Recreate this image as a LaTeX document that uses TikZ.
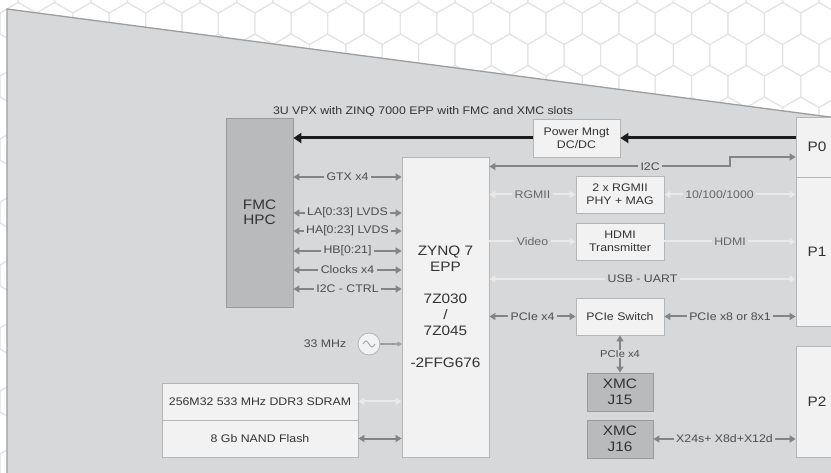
\documentclass[tikz,border=0pt]{standalone}
\usepackage{fontspec}
\setmainfont[FakeStretch=1.12]{Liberation Sans}
\usetikzlibrary{arrows.meta}
\definecolor{panel}{HTML}{D7D8DA}
\definecolor{panelline}{HTML}{9C9D9F}
\definecolor{boxl}{HTML}{F2F2F2}
\definecolor{boxd}{HTML}{B9BABC}
\definecolor{edge}{HTML}{B4B5B7}
\definecolor{edgedark}{HTML}{9A9B9D}
\definecolor{darr}{HTML}{838486}
\definecolor{larr}{HTML}{E9E9EA}
\definecolor{txt}{HTML}{333333}
\definecolor{lbltxt}{HTML}{4C4C4C}
\definecolor{lbllight}{HTML}{666666}
\definecolor{hexline}{HTML}{E3E3E3}
\definecolor{blk}{HTML}{1C1C1C}
\begin{document}
\begin{tikzpicture}[x=1pt,y=-1pt,
  >={Triangle[width=7pt,length=6pt]},
  box/.style={draw=edge,line width=0.8pt,fill=boxl,inner sep=0pt,align=center,text=txt,font=\fontsize{11}{13}\selectfont},
  bigbox/.style={box,font=\fontsize{13.7}{15.5}\selectfont},
  darkbox/.style={bigbox,fill=boxd,draw=edgedark},
  darrow/.style={draw=darr,line width=2pt},
  larrow/.style={draw=larr,line width=2pt},
  blkarrow/.style={draw=blk,line width=3pt,-{Triangle[width=10pt,length=8pt]}},
  oscarrow/.style={draw=darr!80,line width=1.2pt,-{Triangle[width=5pt,length=4pt]}},
  lbl/.style={fill=panel,inner ysep=1pt,inner xsep=2.5pt,font=\fontsize{11}{12}\selectfont,text=lbltxt},
  lbll/.style={lbl,text=lbllight},
  hexcell/.style={draw=hexline,line width=1pt}
]
\useasboundingbox (0,0) rectangle (831,473);
\clip (0,0) rectangle (831,473);
\fill[white] (0,0) rectangle (831,473);
% hexagon background
\foreach \r in {0,...,15}{
  \foreach \c in {-1,...,24}{
    \pgfmathsetmacro{\cx}{\c*36.4+mod(\r,2)*18.2}
    \pgfmathsetmacro{\cy}{\r*31.5-8}
    \draw[hexcell] (\cx,\cy) +(90:21pt) -- +(30:21pt) -- +(-30:21pt) -- +(-90:21pt) -- +(-150:21pt) -- +(150:21pt) -- cycle;
  }
}
% panel
\fill[panel] (7,9) -- (845,119) -- (845,480) -- (7,480) -- cycle;
\draw[panelline,line width=1.3pt] (7,480) -- (7,9) -- (845,119);

% title
\node[font=\fontsize{11}{12}\selectfont,text=txt] (title) at (423,112) {3U VPX with ZINQ 7000 EPP with FMC and XMC slots};

% boxes
\node[darkbox,minimum width=67pt,minimum height=189pt] (fmc) at (259.5,212.5) {FMC\\HPC};
\node[box,minimum width=87pt,minimum height=38pt] (power) at (576.5,138) {Power Mngt\\DC/DC};
\node[bigbox,minimum width=87pt,minimum height=300pt,font=\fontsize{13.7}{16}\selectfont] (zynq) at (445.5,307) {ZYNQ 7\\EPP\\[16pt]7Z030\\/\\7Z045\\[16pt]-2FFG676};
\node[box,minimum width=88pt,minimum height=37pt] (rgmii) at (620,194.5) {2 x RGMII\\PHY + MAG};
\node[box,minimum width=88pt,minimum height=37pt] (hdmi) at (620,241.5) {HDMI\\Transmitter};
\node[box,minimum width=88pt,minimum height=37pt] (pcsw) at (620,316.5) {PCIe Switch};
\node[darkbox,minimum width=66pt,minimum height=38pt] (j15) at (620,392) {XMC\\J15};
\node[darkbox,minimum width=66pt,minimum height=38pt] (j16) at (620,439) {XMC\\J16};
\node[bigbox,minimum width=42pt,minimum height=60pt] (p0) at (817,147) {P0};
\node[bigbox,minimum width=42pt,minimum height=149pt] (p1) at (817,251.5) {P1};
\node[bigbox,minimum width=42pt,minimum height=111pt] (p2) at (817,401.5) {P2};
\node[box,minimum width=196pt,minimum height=37pt] (ddr) at (260,401.5) {256M32 533 MHz DDR3 SDRAM};
\node[box,minimum width=196pt,minimum height=37pt] (nand) at (260,438.5) {8 Gb NAND Flash};
\node[circle,draw=edge,fill=boxl,line width=0.8pt,minimum size=22pt,inner sep=0pt] (osc) at (369,344) {};
\draw[darr!70,line width=1pt] (osc.center) ++(-6,0) sin ++(3,-3) cos ++(3,3) sin ++(3,3) cos ++(3,-3);
\node[font=\fontsize{11}{12}\selectfont,text=lbltxt] (mhz) at (325,344) {33 MHz};

% named levels
\coordinate (yGTX) at (0,177);
\coordinate (yLA) at (0,213);
\coordinate (yHA) at (0,231);
\coordinate (yHB) at (0,251);
\coordinate (yCLK) at (0,270);
\coordinate (yCTRL) at (0,289);
\coordinate (yI2C) at (0,166.5);
\coordinate (yI2Cp) at (0,157);
\coordinate (bend) at (730,166.5);
\coordinate (yUSB) at (0,279);

% power
\draw[blkarrow] (p0.west |- power.east) -- (power.east);
\draw[blkarrow] (power.west) -- (fmc.east |- power.west);

% FMC links
\draw[darrow,<->] (fmc.east |- yGTX) -- node[lbl]{GTX x4} (zynq.west |- yGTX);
\draw[darrow,<->] (fmc.east |- yLA) -- node[lbl]{LA[0:33] LVDS} (zynq.west |- yLA);
\draw[darrow,<->] (fmc.east |- yHA) -- node[lbl]{HA[0:23] LVDS} (zynq.west |- yHA);
\draw[darrow,<->] (fmc.east |- yHB) -- node[lbl]{HB[0:21]} (zynq.west |- yHB);
\draw[darrow,<->] (fmc.east |- yCLK) -- node[lbl]{Clocks x4} (zynq.west |- yCLK);
\draw[darrow,<->] (fmc.east |- yCTRL) -- node[lbl]{I2C - CTRL} (zynq.west |- yCTRL);

% I2C
\draw[darrow,<->] (zynq.east |- yI2C) -- node[lbl,pos=0.668]{I2C} (bend) |- (p0.west |- yI2Cp);

% right side links
\draw[larrow,<->] (zynq.east |- rgmii.west) -- node[lbll]{RGMII} (rgmii.west);
\draw[larrow,<->] (rgmii.east) -- node[lbll,pos=0.42]{10/100/1000} (p1.west |- rgmii.east);
\draw[larrow,->] (zynq.east |- hdmi.west) -- node[lbll]{Video} (hdmi.west);
\draw[larrow,->] (hdmi.east) -- node[lbll]{HDMI} (p1.west |- hdmi.east);
\draw[larrow,<->] (zynq.east |- yUSB) -- node[lbl]{USB - UART} (p1.west |- yUSB);
\draw[darrow,<->] (zynq.east |- pcsw.west) -- node[lbl]{PCIe x4} (pcsw.west);
\draw[darrow,<->] (pcsw.east) -- node[lbl]{PCIe x8 or 8x1} (p1.west |- pcsw.east);
\draw[darrow,<->] (pcsw.south) -- node[lbl,inner ysep=0.5pt,font=\fontsize{10}{11}\selectfont]{PCIe x4} (j15.north);
\draw[darrow,<->] (j16.east) -- node[lbl]{X24s+ X8d+X12d} (p2.west |- j16.east);

% left bottom links
\draw[oscarrow] (osc.east) -- (zynq.west |- osc.east);
\draw[larrow,<->] (ddr.east) -- (zynq.west |- ddr.east);
\draw[darrow,<->] (nand.east) -- (zynq.west |- nand.east);
\end{tikzpicture}
\end{document}
